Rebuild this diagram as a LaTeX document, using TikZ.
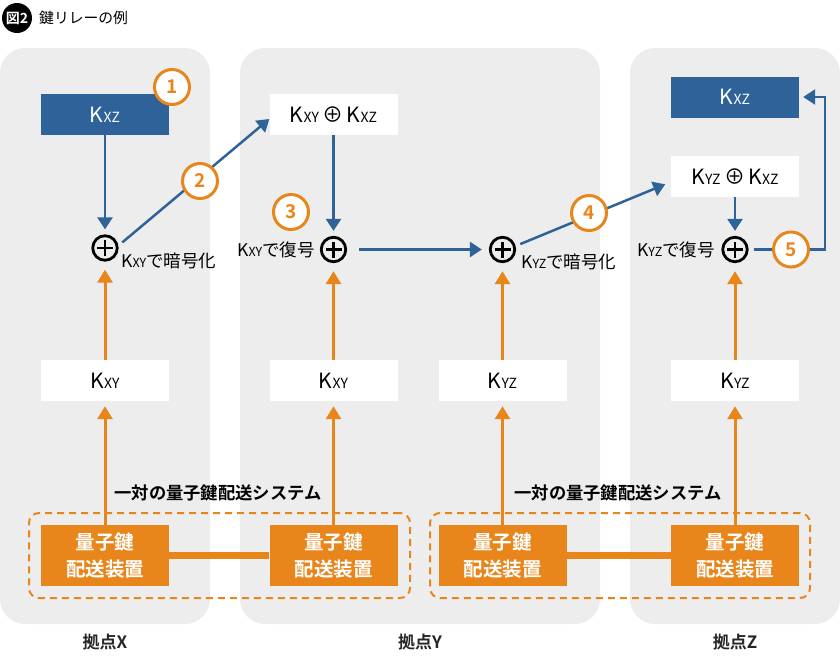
\documentclass[tikz,border=0pt]{standalone}
\usepackage{fontspec}
\setmainfont{Noto Sans CJK JP}[BoldFont={Noto Sans CJK JP Bold}]
\usetikzlibrary{arrows.meta}
\definecolor{keyblue}{HTML}{2F6299}
\definecolor{qkdorange}{HTML}{E8861C}
\definecolor{panelgray}{HTML}{EDEDED}
\newcommand{\boxkey}[1]{K{\fontsize{14}{14}\selectfont #1}}
\newcommand{\labelkey}[1]{K{\fontsize{12.5}{13}\selectfont #1}}

\begin{document}
\begin{tikzpicture}
[x=1pt,y=-1pt,
  panelDecorate/.style={shape=rectangle,fill=panelgray,rounded corners=25pt,minimum height=576pt,inner sep=0pt},
  blueBoxDecorate/.style={fill=keyblue,text=white,minimum width=128pt,minimum height=41pt,inner sep=0pt,font=\fontsize{21}{21}\selectfont},
  whiteBoxDecorate/.style={fill=white,minimum width=128pt,minimum height=41pt,inner sep=0pt,font=\fontsize{21}{21}\selectfont},
  qkdBoxDecorate/.style={fill=qkdorange,text=white,minimum width=128pt,minimum height=61pt,inner sep=0pt,align=center,font=\bfseries\fontsize{19.5}{27}\selectfont},
  pairDecorate/.style={draw=qkdorange,line width=2pt,dash pattern=on 7pt off 5pt,rounded corners=10pt,minimum height=85pt},
  xorDecorate/.style={shape=circle,draw,line width=2.8pt,minimum size=24.5pt,inner sep=0pt,
    path picture={\draw[line width=2.8pt]
      ([xshift=-8pt]path picture bounding box.center) -- ([xshift=8pt]path picture bounding box.center)
      ([yshift=-8pt]path picture bounding box.center) -- ([yshift=8pt]path picture bounding box.center);}},
  stepDecorate/.style={shape=circle,draw=qkdorange,fill=white,line width=3pt,minimum size=35pt,inner sep=0pt,text=qkdorange,font=\bfseries\fontsize{19}{19}\selectfont},
  labelDecorate/.style={inner sep=0pt,font=\fontsize{17.5}{18}\selectfont},
  systemDecorate/.style={inner sep=0pt,font=\bfseries\fontsize{17.3}{17}\selectfont},
  siteDecorate/.style={inner sep=0pt,text=black!85,font=\bfseries\fontsize{17}{17}\selectfont},
  blueLineDecorate/.style={draw=keyblue,line width=2.5pt,-{Triangle[width=15pt,length=12pt]}},
  orangeLineDecorate/.style={draw=qkdorange,line width=3pt,-{Triangle[width=15pt,length=13pt]}},
  linkDecorate/.style={draw=qkdorange,line width=6.5pt}]
\useasboundingbox (0,0) rectangle (840,667);
%% title
\node (badge) at (17,18) [shape=circle,fill=black,text=white,minimum size=30pt,inner sep=0pt,font=\bfseries\fontsize{14}{14}\selectfont] {図2};
\node (title) at (39,18) [anchor=west,inner sep=0pt,font=\fontsize{14.8}{15}\selectfont] {鍵リレーの例};
%% sites
\foreach \nodename/\x/\w/\sitename in {px/105/210/拠点X, py/420/360/拠点Y, pz/735/210/拠点Z}
{
  \node (\nodename) at (\x,336) [panelDecorate,minimum width=\w pt] {};
  \node at (\x,642) [siteDecorate] {\sitename};
}
%% quantum key distribution pairs
\node (pairXY) at (219.5,555.5) [pairDecorate,minimum width=381pt] {};
\node (pairYZ) at (620,555.5) [pairDecorate,minimum width=380pt] {};
\node at (218,493) [systemDecorate] {一対の量子鍵配送システム};
\node at (618,493) [systemDecorate] {一対の量子鍵配送システム};
\foreach \nodename/\x in {qkdX/105, qkdY/333.5, qkdYb/502.5, qkdZ/735}
{
  \node (\nodename) at (\x,555.5) [qkdBoxDecorate] {量子鍵\\配送装置};
}
\draw[linkDecorate] (qkdX) -- (qkdY);
\draw[linkDecorate] (qkdYb) -- (qkdZ);
%% keys
\foreach \nodename/\x/\sub in {kxyX/105/XY, kxyY/333.5/XY, kyzY/502.5/YZ, kyzZ/735/YZ}
{
  \node (\nodename) at (\x,380.5) [whiteBoxDecorate] {\boxkey{\sub}};
}
\node (kxzX) at (105,114.5) [blueBoxDecorate] {\boxkey{XZ}};
\node (kxyxzY) at (333.5,114.5) [whiteBoxDecorate] {\boxkey{XY}\,⊕\,\boxkey{XZ}};
\node (kyzxzZ) at (735,176.5) [whiteBoxDecorate] {\boxkey{YZ}\,⊕\,\boxkey{XZ}};
\node (kxzZ) at (735,97) [blueBoxDecorate] {\boxkey{XZ}};
%% xor
\node (encX) at (105,248) [xorDecorate] {};
\node (decY) at (333.5,249.5) [xorDecorate] {};
\node (encY) at (502.5,249.5) [xorDecorate] {};
\node (decZ) at (735,249.5) [xorDecorate] {};
\node at (121,261) [labelDecorate,anchor=west] {\labelkey{XY}で暗号化};
\node at (315,250) [labelDecorate,anchor=east] {\labelkey{XY}で復号};
\node at (521,262) [labelDecorate,anchor=west] {\labelkey{YZ}で暗号化};
\node at (715,249.5) [labelDecorate,anchor=east] {\labelkey{YZ}で復号};
%% edges
\path
\foreach \startnode/\endnode in {qkdX/kxyX, qkdY/kxyY, qkdYb/kyzY, qkdZ/kyzZ}
{
  (\startnode) edge[orangeLineDecorate,shorten >=5pt] (\endnode)
};
\path
\foreach \startnode/\endnode in {kxyX/encX, kxyY/decY, kyzY/encY, kyzZ/decZ}
{
  (\startnode) edge[orangeLineDecorate,shorten >=8pt] (\endnode)
};
\path
\foreach \startnode/\endnode in {kxzX/encX, kxyxzY/decY, kyzxzZ/decZ}
{
  (\startnode) edge[blueLineDecorate,shorten >=5pt] (\endnode)
};
\draw[blueLineDecorate,shorten <=5pt] (encX.10) -- ([yshift=-4.5pt]kxyxzY.west);
\draw[blueLineDecorate,shorten <=12pt,shorten >=7pt] (decY) -- (encY);
\draw[blueLineDecorate,shorten <=5pt,shorten >=6pt] (encY.15) -- ([yshift=-5.5pt]kyzxzZ.west);
\coordinate (turnZ) at (825,249.5);
\draw[blueLineDecorate,shorten <=5pt,shorten >=4pt] (decZ.east) -- (turnZ) |- (kxzZ.east);
%% steps
\foreach \nodename/\x/\y in {1/172/87, 2/200/181, 3/291/212, 4/589/213, 5/791/249.5}
{
  \node (step\nodename) at (\x,\y) [stepDecorate] {\nodename};
}
\end{tikzpicture}
\end{document}
